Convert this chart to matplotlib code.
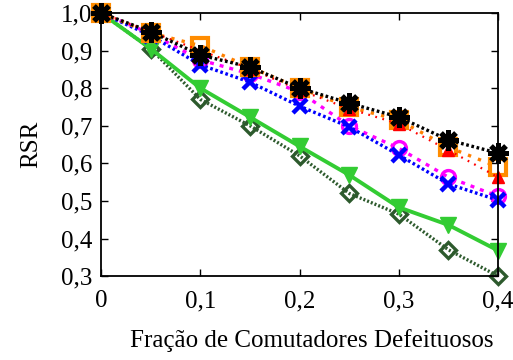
import numpy as np
import matplotlib
matplotlib.use('Agg')
import matplotlib.pyplot as plt

plt.rcParams['font.family'] = ['Liberation Serif', 'DejaVu Serif']

x = [0, 0.05, 0.1, 0.15, 0.2, 0.25, 0.3, 0.35, 0.4]

# series
dark_green = [1.0, 0.905, 0.77, 0.70, 0.62, 0.52, 0.465, 0.37, 0.30]
green = [1.0, 0.905, 0.80, 0.723, 0.645, 0.569, 0.483, 0.436, 0.368]
magenta = [1.0, 0.945, 0.875, 0.838, 0.79, 0.70, 0.64, 0.563, 0.512]
blue = [1.0, 0.94, 0.862, 0.816, 0.752, 0.697, 0.622, 0.545, 0.502]
red = [1.0, 0.95, 0.90, 0.852, 0.795, 0.745, 0.705, 0.635, 0.563]
orange = [1.0, 0.947, 0.913, 0.856, 0.80, 0.75, 0.715, 0.643, 0.59]
black = [1.0, 0.95, 0.888, 0.856, 0.80, 0.76, 0.723, 0.662, 0.627]

fig = plt.figure(figsize=(5.13, 3.6), dpi=100)
ax = fig.add_axes([0.197, 0.233, 0.774, 0.731])

lw = 2.4
ax.plot(x, dark_green, color='#2d5a2d', ls=(0, (0.6, 0.6)), lw=lw,
        marker='D', ms=8, mfc='none', mec='#2d5a2d', mew=2.4, clip_on=False)
ax.plot(x, green, color='#33cc33', ls='-', lw=2.8,
        marker='v', ms=11, mfc='#33cc33', mec='#33cc33', clip_on=False)
ax.plot(x, magenta, color='#ff00ff', ls=(0, (1.2, 1.8)), lw=lw,
        marker='o', ms=10, mfc='none', mec='#ff00ff', mew=2.4, clip_on=False)
ax.plot(x, blue, color='#0000ff', ls=(0, (0.8, 0.8)), lw=lw,
        marker='x', ms=10, mec='#0000ff', mew=3.2, clip_on=False)
ax.plot(x, orange, color='#ff8000', ls=(0, (1.0, 2.2)), lw=lw,
        marker='s', ms=11, mfc='none', mec='#ff8c00', mew=3, clip_on=False)
ax.plot(x, red, color='#ff0000', ls=(0, (0.8, 2.5)), lw=1.6,
        marker='^', ms=9, mfc='#ff0000', mec='#ff0000', clip_on=False)
ax.plot(x, black, color='black', ls=(0, (0.8, 0.8)), lw=lw,
        marker=(8, 2, 0), ms=15, mec='black', mew=3.6, clip_on=False)

ax.set_xlim(0, 0.4)
ax.set_ylim(0.3, 1.0)
ax.set_xticks([0, 0.1, 0.2, 0.3, 0.4])
ax.set_xticklabels(['0', '0,1', '0,2', '0,3', '0,4'])
yt = [0.3, 0.4, 0.5, 0.6, 0.7, 0.8, 0.9, 1.0]
ax.set_yticks(yt)
ax.set_yticklabels([('%.1f' % v).replace('.', ',') for v in yt])
ax.tick_params(direction='in', top=True, right=True, labelsize=18,
               length=5, width=1, pad=10)
ax.tick_params(axis='y', pad=6)
for s in ax.spines.values():
    s.set_linewidth(1.3)

ax.set_xlabel('Fração de Comutadores Defeituosos', fontsize=18)
ax.xaxis.set_label_coords(0.531, -0.2)
ax.set_ylabel('RSR', fontsize=18, labelpad=14)

fig.savefig('out.png', dpi=100)
